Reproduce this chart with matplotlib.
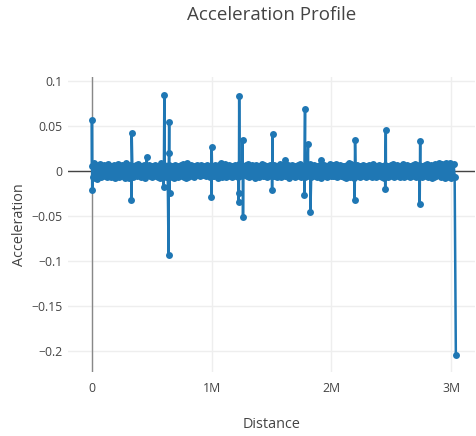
import numpy as np
import matplotlib
matplotlib.use("Agg")
import matplotlib.pyplot as plt
from matplotlib.ticker import FixedLocator

plt.rcParams['font.family'] = ['Open Sans', 'DejaVu Sans']

# Small background fluctuations (in units of 1e-3), sampled along the track
noise_milli = [
    6, -7, 9, -8, 7, -9, 5, -6, 8, -7, 4, -6, 7, -5, 6, -7, 8, -6, 5, -7, 6, -5, 7, -8, 5, -6, 8, -7, 6, -5,
    7, -6, 5, -8, 9, -7, 6, -8, 7, -6, 5, -7, 6, -5, 7, -6, 8, -5, 6, -7, 5, -6, 7, -8, 6, -5, 7, -6, 5, -7,
    6, -5, 7, -6, 5, -7, 6, -8, 9, -7, 8, -6, 5, -7, 6, -5, 7, -6, 5, -7, 6, -8, 7, -6, 5, -7, 6, -5, 7, -6,
    8, -7, 6, -8, 9, -7, 6, -5, 7, -6, 5, -7, 6, -5, 7, -4, 5, -6, 7, -5, 6, -4, 5, -6, 7, -5, 6, -7, 5, -6,
    5, -6, 7, -5, 6, -8, 7, -6, 9, -7, 5, -6, 8, -7, 6, -5, 7, -6, 5, -7, 6, -5, 7, -6, 5, -7, 8, -6, 7, -5,
    6, -5, 7, -6, 8, -7, 5, -6, 7, -5, 6, -8, 7, -6, 5, -7, 6, -5, 8, -6, 7, -6, 5, -7, 6, -5, 7, -6, 5, -6,
    7, -6, 5, -7, 6, -5, 8, -7, 6, -5, 7, -6, 5, -6, 7, -8, 6, -5, 7, -6, 5, -7, 6, -5, 7, -6, 8, -7, 6, -5,
    5, -7, 6, -5, 7, -6, 8, -7, 6, -5, 7, -6, 5, -7, 6, -5, 7, -8, 6, -5, 7, -6, 5, -7, 6, -5, 8, -6, 7, -6,
    7, -6, 8, -7, 6, -5, 7, -6, 5, -7, 6, -8, 7, -6, 9, -7, 8, -6, 7, -8, 6, -5, 7, -6, 5, -7, 6, -5, 7, -6,
    6, -7, 5, -6, 7, -5, 6, -7, 8, -6, 5, -7, 6, -5, 7, -6, 5, -7, 6, -8, 7, -6, 5, -7, 6, -5, 7, -6, 8, -7,
    5, -6, 7, -5, 6, -7, 5, -6, 8, -7, 6, -5, 7, -6, 5, -7, 6, -5, 7, -6, 8, -7, 6, -5, 7, -6, 5, -7, 6, -5,
    7, -6, 8, -7, 6, -5, 7, -8, 6, -7, 8, -6, 7, -5, 9, -7, 8, -6, 7, -8, 9, -7, 8, -6, 9, -8, 7, -6, 8, -7,
]
noise_start_m = 0.0
noise_end_m = 3.03

# Spikes: distance (millions) and acceleration
spike_dist_m = [0.0, 0.002, 0.332, 0.330, 0.458, 0.605, 0.600, 0.645, 0.640, 0.643,
                0.648, 1.0, 0.998, 1.23, 1.225, 1.228, 1.258, 1.262, 1.51, 1.505,
                1.615, 1.78, 1.775, 1.805, 1.825, 1.91, 2.198, 2.195, 2.455, 2.45,
                2.742, 2.738, 3.04]
spike_acc = [0.057, -0.021, 0.042, -0.032, 0.015, 0.084, -0.018, 0.054, -0.093, 0.020,
             -0.025, 0.027, -0.029, 0.083, -0.034, -0.025, 0.034, -0.051, 0.041, -0.021,
             0.012, 0.069, -0.027, 0.030, -0.046, 0.012, 0.034, -0.032, 0.046, -0.020,
             0.033, -0.037, -0.204]

x_ticks = [0, 1e6, 2e6, 3e6]
x_tick_labels = ["0", "1M", "2M", "3M"]
y_ticks = [0.1, 0.05, 0, -0.05, -0.1, -0.15, -0.2]
y_tick_labels = ["0.1", "0.05", "0", "\u22120.05", "\u22120.1", "\u22120.15", "\u22120.2"]

# combine
noise_dist = np.linspace(noise_start_m, noise_end_m, len(noise_milli)) * 1e6
noise_acc = np.array(noise_milli) * 1e-3
dist = np.concatenate([noise_dist, np.array(spike_dist_m) * 1e6])
acc = np.concatenate([noise_acc, np.array(spike_acc)])
order = np.argsort(dist, kind="stable")
dist = dist[order]
acc = acc[order]

W, H = 477, 436
fig = plt.figure(figsize=(W / 100, H / 100), dpi=100)
L, R, T, B = 68, 475, 77, 372
ax = fig.add_axes([L / W, (H - B) / H, (R - L) / W, (B - T) / H])

blue = "#1f77b4"
ax.plot(dist, acc, color=blue, lw=1.8, marker="o", ms=5.0, mew=0, zorder=3)

ax.set_xlim(-0.2e6, 3.2e6)
ax.set_ylim(-0.2233, 0.1044)

ax.xaxis.set_major_locator(FixedLocator(x_ticks))
ax.set_xticklabels(x_tick_labels)
ax.yaxis.set_major_locator(FixedLocator(y_ticks))
ax.set_yticklabels(y_tick_labels)

for s in ax.spines.values():
    s.set_visible(False)
ax.grid(True, color="#eeeeee", lw=1)
ax.set_axisbelow(True)
ax.axhline(0, color="#444444", lw=1, zorder=2)
ax.axvline(0, color="#444444", lw=1, zorder=2, alpha=0.6)
ax.tick_params(length=0, labelsize=8.8, colors="#444444")
ax.tick_params(axis="x", pad=7)
ax.tick_params(axis="y", pad=4)

ax.set_xlabel("Distance", fontsize=10.4, color="#444444", labelpad=16)
ax.set_ylabel("Acceleration", fontsize=10.4, color="#444444", labelpad=3)
fig.text((L + R) / 2 / W, 1 - 15 / H, "Acceleration Profile", ha="center", va="center",
         fontsize=13.5, color="#444444")

fig.savefig("out.png", dpi=100)
